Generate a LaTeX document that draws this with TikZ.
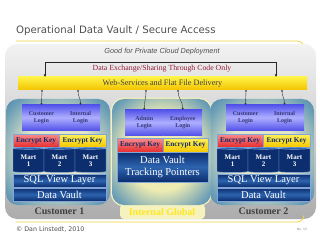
\documentclass[tikz,border=0pt]{standalone}
\usepackage{fontspec}
\setmainfont{Liberation Serif}
\newfontfamily\titlefont{DejaVu Sans}
\newfontfamily\arialfont{Liberation Sans}
\usetikzlibrary{shapes.geometric,arrows.meta}
\definecolor{navyD}{RGB}{12,45,110}
\definecolor{navyL}{RGB}{45,100,175}
\definecolor{navyB}{RGB}{130,165,215}
\definecolor{loginD}{RGB}{85,85,235}
\definecolor{loginL}{RGB}{175,175,255}
\definecolor{loginT}{RGB}{55,55,120}
\definecolor{keyR}{RGB}{230,45,45}
\definecolor{keyRL}{RGB}{250,140,140}
\definecolor{keyY}{RGB}{245,200,0}
\definecolor{keyYL}{RGB}{255,240,90}
\definecolor{regOut}{RGB}{55,120,168}
\definecolor{regMid}{RGB}{110,160,182}
\definecolor{regIn}{RGB}{225,230,200}
\definecolor{regInY}{RGB}{238,236,178}
\definecolor{panTop}{RGB}{242,242,242}
\definecolor{panBot}{RGB}{172,172,172}
\definecolor{bandTop}{RGB}{255,242,70}
\definecolor{bandBot}{RGB}{242,195,0}
\definecolor{lineY}{RGB}{240,212,70}
\definecolor{exRed}{RGB}{150,30,60}
\definecolor{titleG}{RGB}{80,80,80}
\definecolor{globY}{RGB}{255,232,30}
\definecolor{glowY}{RGB}{245,242,190}
\pgfdeclareradialshading{regshade}{\pgfpoint{0bp}{0bp}}{color(0bp)=(regIn); color(16bp)=(regIn); color(30bp)=(regMid); color(40bp)=(regOut); color(50bp)=(regOut)}
\pgfdeclareradialshading{regshadeY}{\pgfpoint{0bp}{0bp}}{color(0bp)=(regInY); color(18bp)=(regInY); color(31bp)=(regMid); color(41bp)=(regOut); color(50bp)=(regOut)}
\begin{document}
\begin{tikzpicture}[x=1pt,y=-1pt,
  every node/.style={inner sep=0pt, outer sep=0pt},
  navybox/.style={draw=navyB, line width=0.4pt, top color=navyD, bottom color=navyD, middle color=navyL, text=white, align=center},
  loginbox/.style={top color=loginD, bottom color=loginD, middle color=loginL, text=loginT, align=center, font=\bfseries\fontsize{6}{6.5}\selectfont},
  redkey/.style={draw=navyB, line width=0.3pt, top color=keyRL, bottom color=keyR, text=navyD, font=\bfseries\fontsize{7.3}{8}\selectfont},
  yelkey/.style={draw=navyB, line width=0.3pt, top color=keyYL, bottom color=keyY, text=navyD, font=\bfseries\fontsize{7.3}{8}\selectfont},
  martcyl/.style={cylinder, shape border rotate=90, aspect=0.12, draw=navyB, line width=0.4pt, cylinder uses custom fill, cylinder body fill=navyD, cylinder end fill=navyL, minimum width=31pt, minimum height=25pt, text=white, align=center, font=\bfseries\fontsize{7}{7.5}\selectfont},
  region/.style={rounded corners=12pt, shading=regshade},
  linkarrow/.style={{Latex[length=2pt,width=2pt]}-{Latex[length=2pt,width=2pt]}, line width=0.4pt, black!80},
  collabel/.style={font=\bfseries\fontsize{10}{11}\selectfont}
]
\useasboundingbox (0,0) rectangle (320,240);
\fill[white] (0,0) rectangle (320,240);

% title
\node[anchor=west, text=titleG, font=\titlefont\fontsize{10.2}{12}\selectfont] (title) at (16,31) {Operational Data Vault / Secure Access};
\draw[lineY, line width=0.8pt] (16,41) -- (297,41) to[out=0,in=90] (304,48);

% gray panel
\shade[rounded corners=12pt, top color=panTop, bottom color=panBot] (5,44) rectangle (316,219);
\node[text=titleG, font=\arialfont\itshape\fontsize{7.3}{8}\selectfont] (good) at (162,51.5) {Good for Private Cloud Deployment};
\node[text=exRed, font=\fontsize{7.8}{8.5}\selectfont] (exch) at (162,69) {Data Exchange/Sharing Through Code Only};

% band
\node[top color=bandTop, bottom color=bandBot, minimum width=289pt, minimum height=13pt, text=black!75, font=\fontsize{8.2}{9}\selectfont] (band) at (162.5,83.5) {Web-Services and Flat File Delivery};
\coordinate (bl) at (45,62);
\coordinate (br) at (276,62);
\draw[{Latex[length=2.5pt,width=2.5pt]}-{Latex[length=2.5pt,width=2.5pt]}, line width=0.7pt, black!85] (bl |- band.north) -- (bl) -- (br) -- (br |- band.north);

% internal global glow behind label and region
\fill[glowY, rounded corners=4pt] (120,204) rectangle (205,219);
\draw[glowY, line width=2.5pt, rounded corners=12pt] (112,99) rectangle (211,205);

% customer columns
\foreach \i/\dx/\lab in {1/0/Customer 1, 2/204/Customer 2}{
  \begin{scope}[xshift=\dx]
    \shade[region] (6,99) rectangle (110,205);
    \node[loginbox, minimum width=39pt, minimum height=25pt] (cl\i) at (41.5,117.5) {Customer\\Login};
    \node[loginbox, minimum width=39pt, minimum height=25pt] (il\i) at (80.5,117.5) {Internal\\Login};
    \node[redkey, minimum width=46pt, minimum height=13pt] (rk\i) at (36,140.5) {Encrypt Key};
    \node[yelkey, minimum width=47pt, minimum height=13pt] (yk\i) at (82.5,140.5) {Encrypt Key};
    \node[martcyl] (ma\i) at (28.5,160.5) {Mart\\1};
    \node[martcyl] (mb\i) at (59.5,160.5) {Mart\\2};
    \node[martcyl] (mc\i) at (90.5,160.5) {Mart\\3};
    \node[navybox, minimum width=93pt, minimum height=13pt, font=\fontsize{10.5}{11}\selectfont] (sql\i) at (59.5,180.5) {SQL View Layer};
    \node[navybox, minimum width=93pt, minimum height=13pt, font=\fontsize{10.5}{11}\selectfont] (dv\i) at (59.5,194.5) {Data Vault};
    \node[collabel, text=black!75] (lab\i) at (59.5,211.5) {\lab};
    \coordinate (sa\i) at (42,89.5);
    \coordinate (sb\i) at (78,89.5);
  \end{scope}
  \draw[linkarrow] (sa\i) .. controls +(0,7) and +(0,-7) .. (cl\i.north);
  \draw[linkarrow] (sb\i) .. controls +(0,7) and +(0,-7) .. (il\i.north);
}

% internal global column
\shade[region, shading=regshadeY] (112,99) rectangle (211,205);
\node[loginbox, minimum width=38.5pt, minimum height=25pt] (adm) at (144.25,122.5) {Admin\\Login};
\node[loginbox, minimum width=38.5pt, minimum height=25pt] (emp) at (182.75,122.5) {Employee\\Login};
\node[redkey, minimum width=46pt, minimum height=14pt] (rkm) at (140,145) {Encrypt Key};
\node[yelkey, minimum width=45pt, minimum height=14pt] (ykm) at (185.5,145) {Encrypt Key};
\node[navybox, minimum width=91pt, minimum height=30pt, font=\fontsize{10.5}{12.5}\selectfont] (dvtp) at (162.5,167) {Data Vault\\Tracking Pointers};
\node[collabel, text=globY] (labm) at (162,212) {Internal Global};
\coordinate (sam) at (146,89.5);
\coordinate (sbm) at (178,89.5);
\draw[linkarrow] (sam) .. controls +(0,9) and +(0,-9) .. (adm.north);
\draw[linkarrow] (sbm) .. controls +(0,9) and +(0,-9) .. (emp.north);

% footer
\draw[lineY, line width=0.8pt] (16,222) -- (297,222) to[out=0,in=-90] (304,215);
\node[anchor=west, text=titleG, font=\titlefont\fontsize{6.3}{7}\selectfont] (copy) at (16,229.5) {© Dan Linstedt, 2010};
\node[text=black!50, font=\titlefont\fontsize{3}{3.5}\selectfont] (pg) at (302,229.5) {No. 15};
\end{tikzpicture}
\end{document}
